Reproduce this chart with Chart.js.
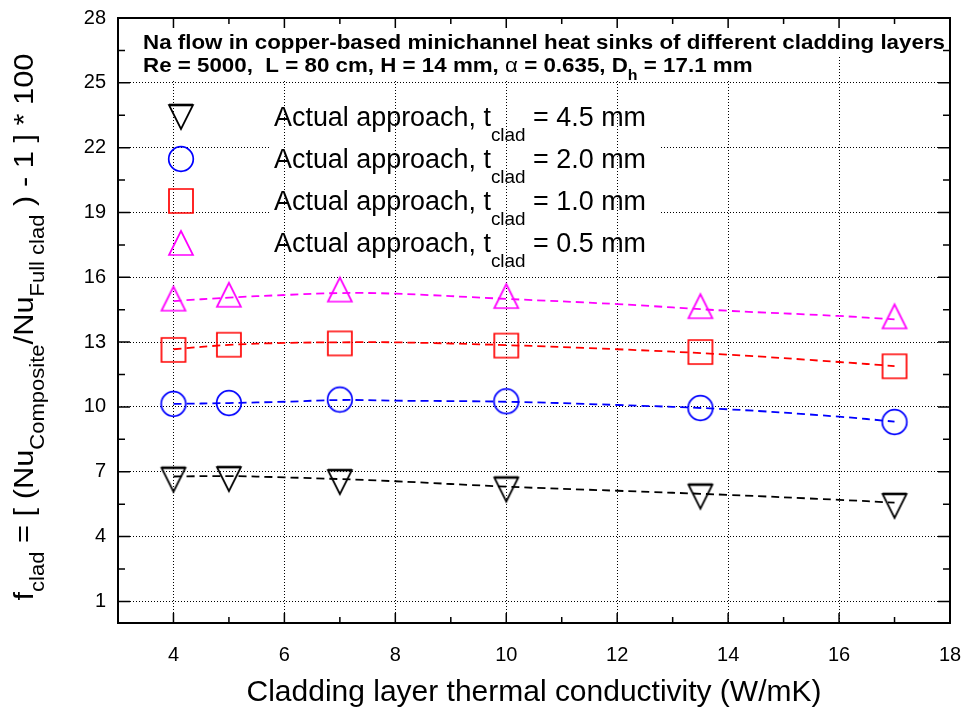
<!DOCTYPE html>
<html>
<head>
<meta charset="utf-8">
<script src="https://cdn.jsdelivr.net/npm/chart.js@4.4.1/dist/chart.umd.min.js"></script>
<style>
  html, body { margin: 0; padding: 0; background: #fff; }
</style>
</head>
<body>
<canvas id="chart" width="963" height="715"></canvas>
<script>
// tick values
const xTicks = [4, 6, 8, 10, 12, 14, 16, 18];
const yTicks = [1, 4, 7, 10, 13, 16, 19, 22, 25, 28];

// cladding conductivity (W/mK) and f_clad for each cladding thickness
const kClad = [4, 5, 7, 10, 13.5, 17];
const f45 = [6.63, 6.66, 6.52, 6.18, 5.85, 5.42];
const f20 = [10.14, 10.18, 10.34, 10.26, 9.95, 9.30];
const f10 = [12.64, 12.88, 12.94, 12.84, 12.54, 11.88];
const f05 = [15.01, 15.19, 15.43, 15.13, 14.66, 14.19];

// dashed trend lines
const fitK = [4, 5, 6, 7, 8, 10, 12, 14, 16, 17];
const fit45 = [6.78, 6.80, 6.74, 6.66, 6.56, 6.31, 6.12, 5.93, 5.70, 5.57];
const fit20 = [10.14, 10.18, 10.24, 10.32, 10.29, 10.24, 10.09, 9.89, 9.55, 9.32];
const fit10 = [12.67, 12.87, 12.96, 12.99, 12.99, 12.86, 12.67, 12.42, 12.08, 11.89];
const fit05 = [14.90, 15.06, 15.18, 15.27, 15.24, 15.00, 14.76, 14.45, 14.21, 14.05];

const thick = ['4.5', '2.0', '1.0', '0.5'];

const FONT = '"Liberation Sans", Arial, sans-serif';

// hollow markers drawn once on small canvases
function marker(kind, color) {
  const c = document.createElement('canvas');
  c.width = 30; c.height = 30;
  const g = c.getContext('2d');
  g.strokeStyle = color;
  g.lineWidth = 1.7;
  g.beginPath();
  if (kind == 'circle') g.arc(15, 15, 12.3, 0, Math.PI * 2);
  else if (kind == 'square') g.rect(3, 3, 24, 24);
  else if (kind == 'up') { g.moveTo(15, 3); g.lineTo(27, 27); g.lineTo(3, 27); g.closePath(); }
  else { g.moveTo(3, 3); g.lineTo(27, 3); g.lineTo(15, 27); g.closePath(); }
  g.stroke();
  if (kind == 'down') { g.lineWidth = 2.6; g.beginPath(); g.moveTo(3, 3); g.lineTo(27, 3); g.stroke(); }
  return c;
}

const series = [
  { y: f45, fit: fit45, color: '#000000', kind: 'down' },
  { y: f20, fit: fit20, color: '#0000ff', kind: 'circle' },
  { y: f10, fit: fit10, color: '#ff0000', kind: 'square' },
  { y: f05, fit: fit05, color: '#ff00ff', kind: 'up' }
];
series.forEach(s => s.img = marker(s.kind, s.color));

const datasets = [];
series.forEach((s, i) => {
  datasets.push({
    label: 'fit ' + thick[i],
    data: fitK.map((k, j) => ({ x: k, y: s.fit[j] })),
    showLine: true,
    borderColor: s.color,
    borderWidth: 1.8,
    borderDash: [8, 5],
    pointRadius: 0,
    tension: 0.4
  });
  datasets.push({
    label: 't_clad = ' + thick[i] + ' mm',
    data: kClad.map((k, j) => ({ x: k, y: s.y[j] })),
    showLine: false,
    pointStyle: s.img,
    pointRadius: 12
  });
});

// draw a string made of normal and subscript pieces
function rich(ctx, parts, x, y, size, weight, drop) {
  let cx = x;
  parts.forEach(p => {
    const sub = p[1];
    ctx.font = (p[2] || weight || '') + ' ' + (sub ? Math.round(size * 0.72) : size) + 'px ' + FONT;
    ctx.fillText(p[0], cx, y + (sub ? size * (drop || 0.4) : 0));
    cx += ctx.measureText(p[0]).width;
  });
  return cx - x;
}
function richWidth(ctx, parts, size, weight) {
  let w = 0;
  parts.forEach(p => {
    ctx.font = (p[2] || weight || '') + ' ' + (p[1] ? Math.round(size * 0.72) : size) + 'px ' + FONT;
    w += ctx.measureText(p[0]).width;
  });
  return w;
}

function dotted(ctx) {
  ctx.strokeStyle = '#000';
  ctx.lineWidth = 1;
  ctx.setLineDash([1, 2]);
}

const decor = {
  id: 'decor',
  beforeDatasetsDraw(chart) {
    const { ctx, chartArea: a, scales: { x } } = chart;
    ctx.save();
    ctx.fillStyle = '#fff';
    // boxes behind the heading
    ctx.fillRect(138, a.top + 1, a.right - 139, 36);
    ctx.fillRect(138, a.top + 37, 620, 24);
    // box behind legend text, vertical grid shows through it
    ctx.fillRect(270, 100, 390, 162);
    ctx.beginPath();
    ctx.rect(270, 100, 390, 162);
    ctx.clip();
    dotted(ctx);
    xTicks.forEach(v => {
      const px = Math.round(x.getPixelForValue(v)) + 0.5;
      ctx.beginPath(); ctx.moveTo(px, a.top); ctx.lineTo(px, a.bottom); ctx.stroke();
    });
    ctx.restore();

    ctx.save();
    ctx.fillStyle = '#000';
    ctx.textBaseline = 'alphabetic';
    // heading, two lines
    const l1 = [['Na flow in copper-based minichannel heat sinks of different cladding layers', false]];
    const l2 = [['Re = 5000,  L = 80 cm, H = 14 mm, ', false], ['\u03b1', false, 'normal'], [' = 0.635, D', false], ['h', true], [' = 17.1 mm', false]];
    const sz = 21;
    const sx = 802 / richWidth(ctx, l1, sz, 'bold');
    ctx.translate(143, 0);
    ctx.scale(sx, 1);
    rich(ctx, l1, 0, 49, sz, 'bold');
    rich(ctx, l2, 0, 72, sz, 'bold');
    ctx.restore();

    // legend text
    ctx.save();
    ctx.fillStyle = '#000';
    const lsz = 27;
    const row = t => [['Actual approach, t', false], ['clad', true], [' = ' + t + ' mm', false]];
    const lx = 372 / richWidth(ctx, row('4.5'), lsz);
    ctx.translate(274, 0);
    ctx.scale(lx, 1);
    thick.forEach((t, i) => rich(ctx, row(t), 0, 126 + i * 42, lsz, '', 0.55));
    ctx.restore();
  },
  afterDraw(chart) {
    const { ctx, chartArea: a, scales: { x, y } } = chart;
    ctx.save();
    ctx.strokeStyle = '#000';
    ctx.setLineDash([]);
    // inward ticks on all four sides
    ctx.lineWidth = 1.5;
    ctx.beginPath();
    for (let v = 4; v <= 18; v += 1) {
      const px = x.getPixelForValue(v);
      const len = v % 2 == 0 ? 10 : 6;
      ctx.moveTo(px, a.bottom); ctx.lineTo(px, a.bottom - len);
      ctx.moveTo(px, a.top); ctx.lineTo(px, a.top + len);
    }
    for (let v = 1; v <= 28; v += 1.5) {
      const py = y.getPixelForValue(v);
      const len = (v - 1) % 3 == 0 ? 12 : 7;
      ctx.moveTo(a.left, py); ctx.lineTo(a.left + len, py);
      ctx.moveTo(a.right, py); ctx.lineTo(a.right - len, py);
    }
    ctx.stroke();
    // frame
    ctx.lineWidth = 2;
    ctx.strokeRect(a.left, a.top, a.right - a.left, a.bottom - a.top);

    // legend markers
    const my = [117, 159, 201, 243];
    series.forEach((s, i) => ctx.drawImage(s.img, 181 - 15, my[i] - 15));

    // axis titles
    ctx.fillStyle = '#000';
    const xt = 'Cladding layer thermal conductivity (W/mK)';
    ctx.font = '24px ' + FONT;
    const xs = 24 * 575 / ctx.measureText(xt).width;
    ctx.font = xs + 'px ' + FONT;
    ctx.textAlign = 'center';
    ctx.fillText(xt, 534, 701);

    ctx.textAlign = 'left';
    const yt = [['f', false], ['clad', true], [' = [ (Nu', false], ['Composite', true], ['/Nu', false], ['Full clad', true], [' ) - 1 ] * 100', false]];
    const ysz = 28;
    const w = richWidth(ctx, yt, ysz);
    ctx.translate(33, 327);
    ctx.rotate(-Math.PI / 2);
    const sc = 547 / w;
    ctx.scale(sc, 1);
    rich(ctx, yt, -w / 2, 0, ysz, '', 0.38);
    ctx.restore();
  }
};

new Chart(document.getElementById('chart'), {
  type: 'scatter',
  data: { datasets: datasets },
  options: {
    responsive: false,
    animation: false,
    layout: { padding: { top: 18, right: 13, left: 0, bottom: 0 } },
    plugins: { legend: { display: false }, tooltip: { enabled: false } },
    scales: {
      x: {
        type: 'linear', min: 3, max: 18,
        afterBuildTicks: s => { s.ticks = xTicks.map(v => ({ value: v })); },
        afterFit: s => { s.height = 92; s.paddingLeft = 0; s.paddingRight = 0; },
        grid: { color: '#000', lineWidth: 1, drawTicks: false },
        border: { display: false, dash: [1, 2] },
        ticks: { color: '#000', font: { family: FONT, size: 20 }, padding: 20, maxRotation: 0 }
      },
      y: {
        type: 'linear', min: 0, max: 28,
        afterBuildTicks: s => { s.ticks = yTicks.map(v => ({ value: v })); },
        afterFit: s => { s.width = 118; s.paddingTop = 0; s.paddingBottom = 0; },
        grid: { color: '#000', lineWidth: 1, drawTicks: false },
        border: { display: false, dash: [1, 2] },
        ticks: { color: '#000', font: { family: FONT, size: 20 }, padding: 12 }
      }
    }
  },
  plugins: [decor]
});
</script>
</body>
</html>
